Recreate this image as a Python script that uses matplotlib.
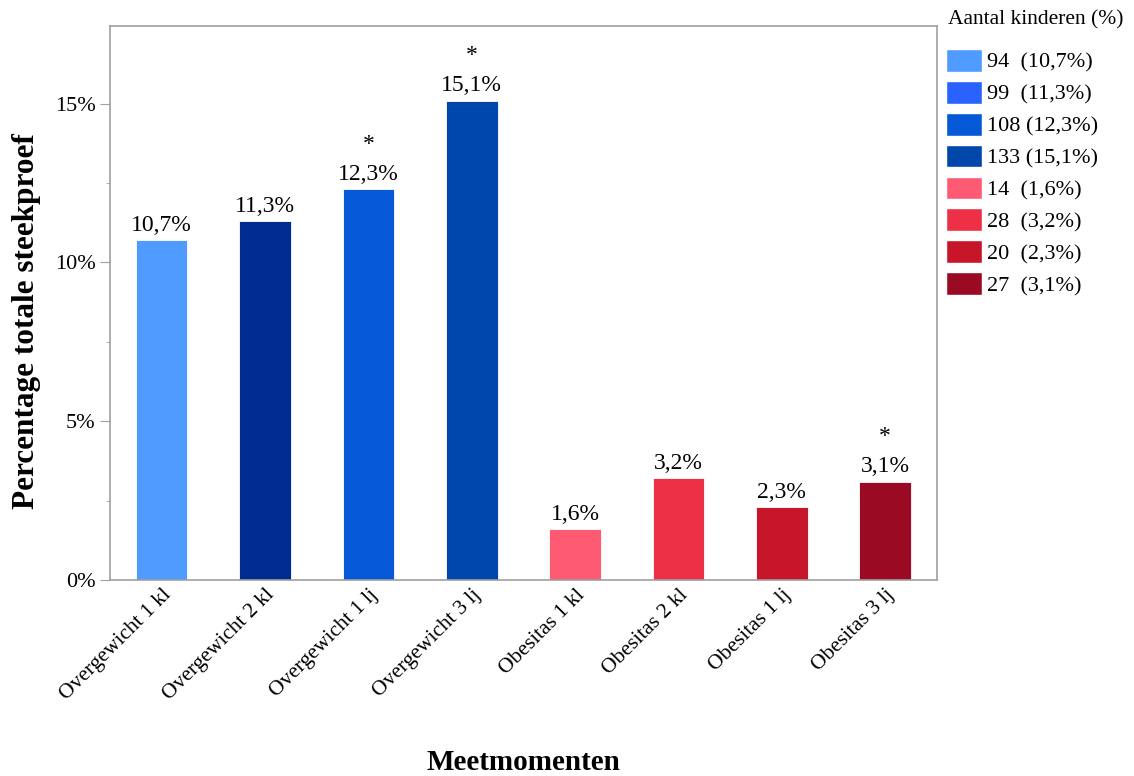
import matplotlib
matplotlib.use("Agg")
import matplotlib.pyplot as plt
from matplotlib.patches import Patch
from matplotlib.ticker import MultipleLocator, FuncFormatter

# meetmomenten en percentages (t.o.v. totale steekproef)
categories = ["Overgewicht 1 kl", "Overgewicht 2 kl", "Overgewicht 1 lj", "Overgewicht 3 lj",
              "Obesitas 1 kl", "Obesitas 2 kl", "Obesitas 1 lj", "Obesitas 3 lj"]
percentages = [10.7, 11.3, 12.3, 15.1, 1.6, 3.2, 2.3, 3.1]
counts = [94, 99, 108, 133, 14, 28, 20, 27]
significant = [False, False, True, True, False, False, False, True]

bar_colors = ["#4F9BFF", "#002B8F", "#0558D6", "#0047AB",
              "#FF5A73", "#EE3047", "#C71529", "#9A0A22"]
legend_colors = ["#4F9BFF", "#2962FF", "#0558D6", "#0047AB",
                 "#FF5A73", "#EE3047", "#C71529", "#9A0A22"]

plt.rcParams["font.family"] = ["Liberation Serif", "DejaVu Serif"]


def pct(v):
    return f"{v:.1f}".replace(".", ",") + "%"


fig = plt.figure(figsize=(11.34, 7.76), dpi=100)
ax = fig.add_axes([0.097, 0.2526, 0.729, 0.714])

x = list(range(len(categories)))
bars = ax.bar(x, percentages, width=0.5, color=bar_colors, edgecolor="white", linewidth=0.6)

for xi, v, sig in zip(x, percentages, significant):
    ax.annotate(pct(v), (xi, v), xytext=(0, 3), textcoords="offset points",
                ha="center", va="bottom", fontsize=17)
    if sig:
        ax.annotate("*", (xi, v), xytext=(0, 25), textcoords="offset points",
                    ha="center", va="bottom", fontsize=17)

ax.set_xlim(-0.5, len(categories) - 0.5)
ax.set_ylim(0, 17.45)
ax.yaxis.set_major_locator(MultipleLocator(5))
ax.yaxis.set_minor_locator(MultipleLocator(2.5))
ax.yaxis.set_major_formatter(FuncFormatter(lambda v, p: f"{v:.0f}%"))
ax.tick_params(axis="y", which="major", length=7, color="#A0A0A0", labelsize=16)
ax.tick_params(axis="y", which="minor", length=3, color="#A0A0A0")
ax.tick_params(axis="x", length=0, labelsize=15.5, pad=4)
ax.set_xticks(x)
ax.set_xticklabels(categories, rotation=45, ha="right", rotation_mode="anchor")

for s in ax.spines.values():
    s.set_color("#A0A0A0")
    s.set_linewidth(1.2)

ax.set_ylabel("Percentage totale steekproef", fontsize=22.5, fontweight="bold")
ax.yaxis.set_label_coords(-0.084, 0.4675)
ax.set_xlabel("Meetmomenten", fontsize=21, fontweight="bold", labelpad=32)

# legenda: titel los geplaatst, daaronder de aantallen per meetmoment
fig.text(948 / 1134, 1 - 20 / 776, "Aantal kinderen (%)", fontsize=15.5, ha="left", va="center")
labels = [f"{n}{' ' if n >= 100 else '  '}({pct(v)})" for n, v in zip(counts, percentages)]
handles = [Patch(facecolor=c, edgecolor="white") for c in legend_colors]
leg = fig.legend(handles, labels, loc="upper left",
                 bbox_to_anchor=(946 / 1134, 1 - 49 / 776), frameon=False, fontsize=16,
                 handlelength=1.6, handleheight=1.2, handletextpad=0.25,
                 labelspacing=0.36, borderaxespad=0, borderpad=0)

fig.savefig("out.png", dpi=100)
